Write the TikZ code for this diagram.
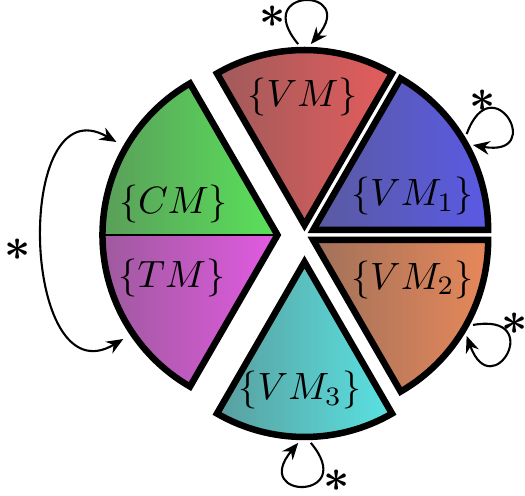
\documentclass[tikz,border=0pt]{standalone}
\usetikzlibrary{arrows.meta}
\definecolor{dull}{RGB}{90,90,90}
\definecolor{vmred}{RGB}{229,92,92}
\definecolor{vmblue}{RGB}{90,90,229}
\definecolor{vmorange}{RGB}{231,136,90}
\definecolor{vmcyan}{RGB}{90,226,226}
\definecolor{cmgreen}{RGB}{90,226,90}
\definecolor{tmpink}{RGB}{226,90,226}
\tikzset{
  rim/.style={line width=1.71pt},
  selfloop/.style={line width=0.55pt,-{Stealth[length=4.4pt,width=3.6pt]}},
  bothways/.style={line width=0.55pt,{Stealth[length=4.4pt,width=3.6pt]}-{Stealth[length=4.4pt,width=3.6pt]}},
  astx/.style={font=\large\boldmath,inner sep=0pt,yshift=-1.3pt},
}
\begin{document}
\begin{tikzpicture}[x=0.263pt,y=0.263pt]
  \def\rad{175} \def\near{10} \def\far{27}
  \useasboundingbox (-304.5,-261) rectangle (220.5,235);
  % the four VM pieces, each with its own loop
  \foreach \a/\sh/\col/\txt/\lx/\ly [count=\i] in {90/\near/vmred/VM/-2/137.5,30/\near/vmblue/VM_1/108/39,-30/\near/vmorange/VM_2/108/-44.5,-90/\far/vmcyan/VM_3/-4.5/-155}{
    \coordinate (c\i) at (\a:\sh);
    \shade[left color=\col!50!dull,right color=\col] (c\i) -- ++(\a-30:\rad) arc[start angle=\a-30,end angle=\a+30,radius=\rad] -- cycle;
    \draw[rim] (c\i) -- ++(\a-30:\rad) arc[start angle=\a-30,end angle=\a+30,radius=\rad] -- cycle;
    \node (l\i) at (\lx,\ly) {$\{\txt\}$};
    \path (c\i) ++(\a+2:181) coordinate (p\i);
    \path (c\i) ++(\a-2:181) coordinate (q\i);
    \draw[selfloop] (p\i) .. controls +(\a+40:75) and +(\a-40:75) .. (q\i);
    \path (c\i) ++(\a+8.5:216) node[astx] (st\i) {$*$};
  }
  % CM and TM share one piece
  \coordinate (c5) at (180:\far);
  \shade[left color=cmgreen!50!dull,right color=cmgreen] (c5) -- ++(180:\rad) arc[start angle=180,end angle=120,radius=\rad] -- cycle;
  \shade[left color=tmpink!50!dull,right color=tmpink] (c5) -- ++(180:\rad) arc[start angle=180,end angle=240,radius=\rad] -- cycle;
  \draw[line width=0.7pt] (c5) -- ++(180:\rad);
  \draw[rim] (c5) -- ++(120:\rad) arc[start angle=120,end angle=240,radius=\rad] -- cycle;
  \node (cm) at (-131,31) {$\{CM\}$};
  \node (tm) at (-132.5,-42.5) {$\{TM\}$};
  \path (c5) ++(150:186) coordinate (cmend);
  \path (c5) ++(214:186) coordinate (tmend);
  \draw[bothways] (cmend) .. controls +(150:120) and +(211:120) .. (tmend);
  \node[astx] (st5) at (-286.5,-10) {$*$};
\end{tikzpicture}
\end{document}
